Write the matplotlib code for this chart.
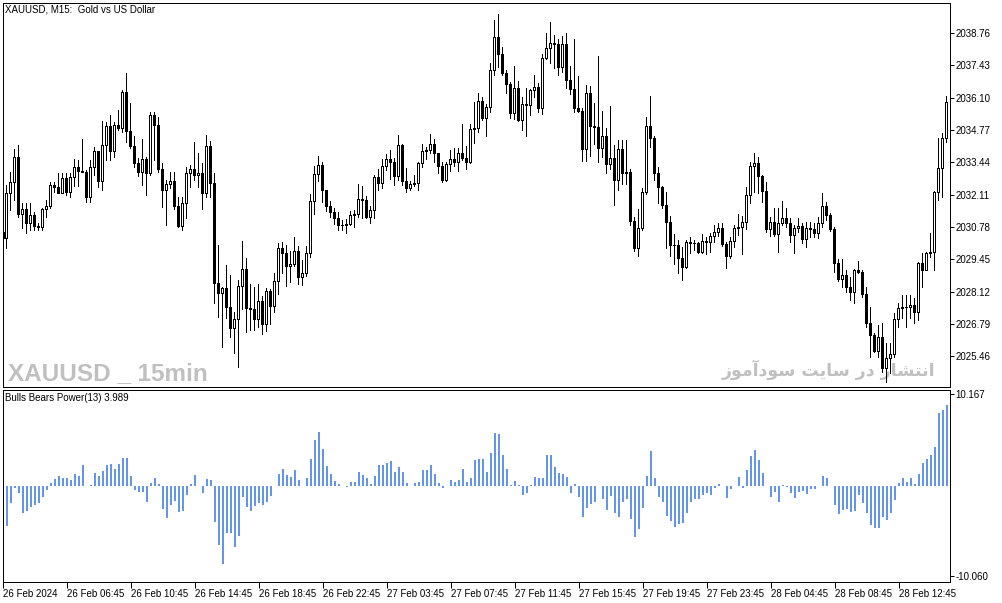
import matplotlib
matplotlib.use('Agg')
import matplotlib.pyplot as plt
import numpy as np

# XAUUSD M15 candles, 26-28 Feb 2024
first_open = 2030.57
closes = [
    2030.33, 2032.18, 2032.63, 2033.66, 2031.31, 2031.52, 2030.94, 2031.27, 2030.82, 2030.78,
    2031.52, 2031.64, 2032.51, 2032.43, 2032.18, 2032.80, 2032.22, 2032.84, 2033.25, 2033.08,
    2033.05, 2032.01, 2033.25, 2033.91, 2032.67, 2034.15, 2034.94, 2033.91, 2034.98, 2034.85,
    2036.33, 2034.73, 2034.11, 2033.41, 2033.04, 2033.58, 2033.00, 2035.39, 2034.98, 2033.17,
    2032.30, 2032.55, 2032.67, 2031.64, 2030.82, 2031.77, 2033.00, 2033.17, 2032.92, 2033.00,
    2032.18, 2034.11, 2032.59, 2028.47, 2028.06, 2028.27, 2027.49, 2026.62, 2026.99, 2028.35,
    2029.05, 2027.45, 2027.41, 2026.99, 2027.73, 2026.79, 2028.15, 2027.53, 2028.56, 2029.91,
    2029.71, 2029.17, 2029.26, 2029.79, 2028.72, 2028.89, 2029.71, 2031.85, 2032.96, 2033.33,
    2032.30, 2031.64, 2031.40, 2031.15, 2030.86, 2030.84, 2030.90, 2031.27, 2031.30, 2031.93,
    2031.89, 2031.19, 2031.48, 2032.84, 2032.59, 2033.29, 2033.58, 2033.45, 2032.88, 2034.15,
    2032.67, 2032.38, 2032.55, 2032.57, 2033.41, 2033.91, 2033.95, 2034.19, 2033.82, 2033.29,
    2032.71, 2033.37, 2033.58, 2033.45, 2033.82, 2033.62, 2033.45, 2034.81, 2034.86, 2035.96,
    2035.26, 2035.72, 2037.24, 2038.60, 2037.90, 2037.12, 2036.66, 2035.47, 2036.50, 2035.18,
    2035.84, 2035.82, 2036.42, 2036.54, 2035.68, 2037.73, 2038.15, 2038.35, 2038.33, 2037.36,
    2038.31, 2036.83, 2036.46, 2035.68, 2035.55, 2033.99, 2036.29, 2034.94, 2034.90, 2034.03,
    2034.52, 2033.37, 2033.62, 2032.71, 2033.99, 2033.00, 2033.03, 2031.03, 2029.91, 2030.74,
    2032.22, 2034.94, 2034.44, 2033.00, 2032.43, 2031.68, 2030.99, 2030.04, 2030.02, 2029.50,
    2029.13, 2030.16, 2030.12, 2030.10, 2029.75, 2030.20, 2030.18, 2030.41, 2030.57, 2030.74,
    2030.08, 2029.59, 2030.20, 2030.74, 2030.76, 2030.99, 2032.10, 2033.29, 2033.41, 2032.88,
    2032.26, 2030.70, 2030.99, 2030.49, 2030.94, 2031.15, 2030.94, 2030.45, 2030.74, 2030.82,
    2030.29, 2030.74, 2030.70, 2030.53, 2030.94, 2031.64, 2031.27, 2030.70, 2029.30, 2028.64,
    2028.80, 2028.31, 2028.10, 2029.01, 2028.93, 2028.02, 2026.83, 2026.33, 2025.68, 2026.25,
    2024.98, 2025.39, 2025.55, 2026.99, 2027.45, 2027.49, 2027.47, 2027.57, 2027.28, 2029.30,
    2029.01, 2029.71, 2029.74, 2032.22, 2033.21, 2034.44, 2035.92,
]
highs = [
    2030.86, 2032.51, 2033.04, 2033.99, 2034.15, 2031.77, 2031.77, 2031.77, 2031.40, 2030.94,
    2031.56, 2031.89, 2032.63, 2032.63, 2033.00, 2033.00, 2033.00, 2033.00, 2033.58, 2033.54,
    2034.40, 2033.12, 2033.54, 2034.07, 2033.91, 2035.14, 2035.10, 2035.39, 2035.10, 2035.59,
    2036.42, 2037.12, 2035.88, 2034.52, 2033.62, 2034.40, 2033.66, 2035.51, 2035.51, 2035.31,
    2033.41, 2032.71, 2033.04, 2033.04, 2032.01, 2032.01, 2033.25, 2033.33, 2034.28, 2033.82,
    2033.41, 2034.56, 2034.32, 2033.00, 2030.04, 2028.31, 2029.22, 2028.80, 2027.28, 2028.60,
    2030.20, 2029.50, 2028.43, 2028.31, 2028.43, 2027.94, 2028.27, 2028.23, 2028.89, 2030.12,
    2030.16, 2030.04, 2029.79, 2030.37, 2030.00, 2029.42, 2030.00, 2032.14, 2033.29, 2033.70,
    2033.45, 2032.30, 2031.85, 2031.56, 2031.40, 2031.07, 2031.11, 2031.44, 2031.48, 2032.55,
    2032.47, 2032.05, 2031.64, 2032.92, 2033.17, 2033.58, 2033.78, 2033.95, 2033.62, 2034.56,
    2034.19, 2033.21, 2032.67, 2032.92, 2033.45, 2034.19, 2034.07, 2034.61, 2034.40, 2033.82,
    2033.45, 2033.45, 2033.95, 2034.03, 2034.03, 2035.02, 2034.11, 2035.02, 2035.92, 2036.29,
    2036.13, 2035.84, 2037.53, 2039.30, 2039.54, 2038.19, 2037.24, 2036.75, 2037.40, 2036.79,
    2036.13, 2036.50, 2036.45, 2037.03, 2036.70, 2037.90, 2038.76, 2039.21, 2038.68, 2038.52,
    2038.64, 2038.76, 2037.40, 2038.52, 2036.99, 2035.68, 2036.62, 2036.58, 2035.88, 2037.82,
    2035.55, 2034.85, 2035.76, 2034.15, 2034.36, 2034.36, 2034.36, 2033.17, 2031.19, 2031.52,
    2032.38, 2035.31, 2036.17, 2034.52, 2033.25, 2032.47, 2032.22, 2031.23, 2030.49, 2030.24,
    2029.96, 2030.24, 2030.37, 2030.24, 2030.16, 2030.49, 2030.37, 2030.53, 2030.86, 2030.94,
    2030.94, 2030.16, 2030.37, 2030.86, 2031.31, 2031.23, 2032.43, 2033.45, 2033.82, 2033.66,
    2032.92, 2032.63, 2031.19, 2031.56, 2031.56, 2031.85, 2031.56, 2031.15, 2030.86, 2031.15,
    2030.94, 2030.99, 2030.99, 2030.94, 2031.19, 2032.18, 2031.81, 2031.35, 2030.78, 2029.46,
    2029.46, 2029.01, 2028.72, 2029.05, 2029.38, 2029.01, 2028.31, 2027.49, 2026.42, 2026.75,
    2026.83, 2026.01, 2026.01, 2027.24, 2027.65, 2027.98, 2027.98, 2027.98, 2027.86, 2029.34,
    2029.71, 2029.73, 2030.53, 2032.24, 2034.44, 2034.65, 2036.17,
]
lows = [
    2030.24, 2029.91, 2031.48, 2031.89, 2031.19, 2030.74, 2030.53, 2030.66, 2030.66, 2030.66,
    2030.66, 2031.19, 2031.56, 2032.22, 2032.16, 2032.18, 2032.10, 2032.01, 2032.47, 2032.47,
    2033.04, 2031.81, 2031.81, 2032.92, 2032.43, 2032.30, 2033.54, 2033.54, 2033.66, 2034.77,
    2034.69, 2034.28, 2034.03, 2033.25, 2032.88, 2032.51, 2032.10, 2032.92, 2033.54, 2033.04,
    2031.60, 2030.86, 2032.38, 2031.52, 2030.78, 2030.66, 2031.15, 2032.43, 2032.71, 2032.43,
    2031.52, 2032.01, 2032.01, 2027.65, 2027.08, 2025.84, 2027.03, 2026.25, 2025.59, 2025.02,
    2027.41, 2026.46, 2026.54, 2026.54, 2026.66, 2026.38, 2026.50, 2026.79, 2027.28, 2028.02,
    2028.89, 2028.35, 2028.52, 2029.17, 2028.43, 2028.39, 2028.76, 2029.54, 2031.31, 2032.67,
    2031.81, 2031.44, 2031.19, 2030.90, 2030.66, 2030.66, 2030.53, 2030.86, 2030.78, 2031.19,
    2031.15, 2031.13, 2030.94, 2031.15, 2032.30, 2032.38, 2033.12, 2032.75, 2032.51, 2032.71,
    2032.51, 2032.22, 2032.30, 2032.47, 2032.30, 2033.25, 2033.58, 2033.82, 2033.45, 2033.00,
    2032.63, 2032.67, 2033.08, 2033.29, 2033.08, 2033.54, 2033.17, 2033.41, 2034.24, 2034.69,
    2035.18, 2034.52, 2035.51, 2037.03, 2037.36, 2037.03, 2036.29, 2035.26, 2035.22, 2035.16,
    2034.77, 2034.52, 2035.39, 2036.13, 2035.51, 2035.43, 2037.69, 2037.53, 2037.32, 2037.03,
    2037.16, 2036.50, 2036.25, 2035.51, 2035.50, 2033.49, 2033.49, 2033.70, 2034.19, 2033.45,
    2033.66, 2033.00, 2033.17, 2031.68, 2032.30, 2032.55, 2032.55, 2030.86, 2029.79, 2029.59,
    2030.66, 2032.14, 2034.07, 2032.71, 2031.77, 2031.56, 2029.91, 2029.59, 2029.26, 2028.89,
    2028.60, 2029.09, 2029.71, 2029.83, 2029.71, 2029.71, 2029.67, 2029.75, 2030.16, 2030.41,
    2030.00, 2029.09, 2029.50, 2029.96, 2030.45, 2029.67, 2030.70, 2031.77, 2032.22, 2032.18,
    2031.81, 2030.57, 2030.41, 2030.41, 2029.75, 2030.86, 2030.78, 2030.16, 2029.71, 2030.57,
    2030.12, 2029.96, 2030.37, 2030.37, 2030.33, 2030.78, 2031.07, 2030.61, 2028.93, 2028.56,
    2028.31, 2028.10, 2027.78, 2027.65, 2028.89, 2027.90, 2026.66, 2025.43, 2025.63, 2025.43,
    2024.81, 2024.40, 2024.77, 2025.43, 2026.66, 2027.03, 2026.66, 2027.03, 2026.83, 2026.95,
    2028.31, 2029.01, 2029.54, 2029.01, 2031.89, 2032.01, 2034.28,
]
opens = [first_open] + closes[:-1]

# Bulls Bears Power(13)
bbp = [
    -3.90, -4.52, -1.93, -0.26, -0.81, -3.04, -2.85, -2.37, -2.22, -1.93,
    -1.26, -0.52, 0.30, 0.67, 1.11, 0.85, 0.81, 0.59, 1.33, 1.11,
    2.33, -0.07, 0.11, 1.41, 1.04, 1.59, 2.33, 2.44, 1.78, 2.44,
    3.04, 3.07, 1.11, -0.52, -0.74, -0.74, -1.85, 0.30, 0.85, 0.22,
    -2.59, -3.59, -2.22, -1.74, -2.96, -2.85, -1.11, 0.22, 1.22, -0.07,
    -0.81, 0.74, 0.59, -4.07, -6.56, -8.67, -5.26, -5.26, -6.78, -5.63,
    -1.28, -2.39, -2.87, -2.31, -1.92, -2.19, -1.80, -1.20, -0.08, 1.28,
    1.88, 1.20, 0.96, 1.76, 0.64, -0.08, 0.88, 2.99, 5.11, 5.91,
    4.11, 2.19, 1.32, 0.52, 0.20, -0.08, -0.16, 0.40, 0.40, 1.52,
    1.20, 0.80, 0.12, 1.08, 2.31, 2.31, 2.47, 2.67, 1.48, 2.07,
    1.52, 0.32, -0.08, 0.24, 0.40, 1.76, 1.68, 2.23, 1.32, 0.32,
    -0.32, -0.08, 0.64, 0.40, 0.56, 1.88, 0.40, 0.80, 2.79,
    2.99, 2.99, 1.52, 3.59, 5.79, 5.67, 3.43, 1.88, 0.08, 0.48,
    0.08, -1.00, -0.88, 0.08, 0.96, 0.88, 0.88, 3.43, 3.43, 2.07,
    1.40, 1.32, 0.96, -0.88, 0.16, -1.28, -3.47, -2.51, -2.00, -1.88,
    -0.08, -1.52, -2.67, -1.12, -3.11, -3.47, -1.88, -1.48, -3.67, -5.67,
    -4.79, -2.51, 1.08, 3.87, 0.80, -1.28, -1.88, -3.35, -3.91, -4.59,
    -4.23, -4.11, -3.11, -1.88, -1.52, -1.52, -1.00, -0.88, -1.00,
    -0.26, 0.19, -0.07, -1.37, -0.44, -0.07, 0.93, -0.26, 1.67, 3.33,
    3.89, 2.78, 1.41, -0.07, -1.26, -0.74, -1.85, 0.11, -0.15, -0.81,
    -1.37, -0.74, -0.63, -0.93, -0.44, -0.44, -0.07, 1.11, 0.78, -0.07,
    -2.19, -3.15, -2.74, -2.59, -2.96, -2.85, -1.11, -1.93, -3.04, -4.44,
    -4.70, -4.70, -3.52, -3.78, -3.04, -1.63, 0.30, 0.85, 0.41, 0.85,
    0.19, 1.33, 2.52, 2.96, 3.44, 4.30, 8.00, 8.44, 8.89,
]

price_ticks = [2038.76, 2037.43, 2036.10, 2034.77, 2033.44, 2032.11,
               2030.78, 2029.45, 2028.12, 2026.79, 2025.46]
bbp_ticks = [10.167, -10.060]
time_labels = ['26 Feb 2024', '26 Feb 06:45', '26 Feb 10:45', '26 Feb 14:45',
               '26 Feb 18:45', '26 Feb 22:45', '27 Feb 03:45', '27 Feb 07:45',
               '27 Feb 11:45', '27 Feb 15:45', '27 Feb 19:45', '27 Feb 23:45',
               '28 Feb 04:45', '28 Feb 08:45', '28 Feb 12:45']
bars_per_label = 16

title = 'XAUUSD, M15:  Gold vs US Dollar'
ind_title = 'Bulls Bears Power(13) 3.989'
mark_en = 'XAUUSD _ 15min'
mark_fa = 'انتشار در سایت سودآموز'

# matplotlib has no arabic shaping, so pick presentation forms by hand
FORMS = {  # isolated, final, initial, medial
    'ا': ('\uFE8D', '\uFE8E', None, None),
    'آ': ('\uFE81', '\uFE82', None, None),
    'ن': ('\uFEE5', '\uFEE6', '\uFEE7', '\uFEE8'),
    'ت': ('\uFE95', '\uFE96', '\uFE97', '\uFE98'),
    'ش': ('\uFEB5', '\uFEB6', '\uFEB7', '\uFEB8'),
    'ر': ('\uFEAD', '\uFEAE', None, None),
    'د': ('\uFEA9', '\uFEAA', None, None),
    'س': ('\uFEB1', '\uFEB2', '\uFEB3', '\uFEB4'),
    'ی': ('\uFBFC', '\uFBFD', '\uFBFE', '\uFBFF'),
    'و': ('\uFEED', '\uFEEE', None, None),
    'م': ('\uFEE1', '\uFEE2', '\uFEE3', '\uFEE4'),
    'ز': ('\uFEAF', '\uFEB0', None, None),
}


def shape(text):
    out = []
    for i, ch in enumerate(text):
        if ch not in FORMS:
            out.append(ch)
            continue
        prev = text[i - 1] if i > 0 else ''
        nxt = text[i + 1] if i + 1 < len(text) else ''
        j_prev = prev in FORMS and FORMS[prev][2] is not None
        j_next = nxt in FORMS and FORMS[ch][2] is not None
        iso, fin, ini, med = FORMS[ch]
        if j_prev and j_next:
            out.append(med)
        elif j_prev:
            out.append(fin)
        elif j_next:
            out.append(ini)
        else:
            out.append(iso)
    return ''.join(reversed(out))


plt.rcParams['font.family'] = ['Liberation Sans', 'DejaVu Sans']

W, H = 1003, 603
fig = plt.figure(figsize=(W / 100, H / 100), dpi=100)


def px_rect(x0, y0, x1, y1):
    return [x0 / W, 1 - y1 / H, (x1 - x0) / W, (y1 - y0) / H]


ax = fig.add_axes(px_rect(3, 3, 950, 387))
axi = fig.add_axes(px_rect(3, 390, 950, 582))

o = np.array(opens)
c = np.array(closes)
h = np.maximum(np.array(highs), np.maximum(o, c))
l = np.minimum(np.array(lows), np.minimum(o, c))
x = np.arange(len(c))
up = c >= o

LW = 0.72  # one pixel
ax.vlines(x, l, h, colors='black', linewidth=LW, antialiased=False, zorder=2)
ax.bar(x, np.maximum(np.abs(c - o), 0.004), bottom=np.minimum(o, c), width=0.5,
       color=np.where(up, 'white', 'black'), edgecolor='black', linewidth=LW,
       antialiased=False, zorder=3)

xlim = (0.125, 236.875)
ax.set_xlim(*xlim)
ax.set_ylim(2024.19, 2040.0)
ax.set_xticks([])
ax.yaxis.tick_right()
ax.set_yticks(price_ticks)
ax.set_yticklabels([f'{v:.2f}' for v in price_ticks])
ax.tick_params(axis='y', direction='out', length=3, width=LW, pad=1, labelsize=7)

ax.text(8 / W, 1 - 380 / H, mark_en, transform=fig.transFigure, fontsize=17.5,
        fontweight='bold', color='#c0c0c0', va='baseline', ha='left', zorder=1)
ax.text(935 / W, 1 - 376 / H, shape(mark_fa), transform=fig.transFigure, fontsize=12.5,
        fontweight='bold', color='#c0c0c0', va='baseline', ha='right', zorder=1,
        family='DejaVu Sans')

axi.bar(x, bbp, width=0.5, color='#6495ED', antialiased=False)
axi.set_xlim(*xlim)
axi.set_ylim(-10.72, 10.61)
axi.yaxis.tick_right()
axi.set_yticks(bbp_ticks)
axi.set_yticklabels(['10.167', '-10.060'])
axi.tick_params(axis='y', direction='out', length=3, width=LW, pad=1, labelsize=7)
axi.set_xticks(np.arange(len(time_labels)) * bars_per_label)
axi.set_xticklabels(time_labels)
for lab in axi.get_xticklabels():
    lab.set_ha('left')
axi.tick_params(axis='x', direction='out', length=4, width=LW, pad=1, labelsize=7)

for a in (ax, axi):
    for s in a.spines.values():
        s.set_linewidth(LW)
        s.set_color('black')

fig.text(5 / W, 1 - 10 / H, title, fontsize=7, va='center', ha='left')
fig.text(5 / W, 1 - 398 / H, ind_title, fontsize=7, va='center', ha='left')

fig.savefig('out.png', dpi=100)
